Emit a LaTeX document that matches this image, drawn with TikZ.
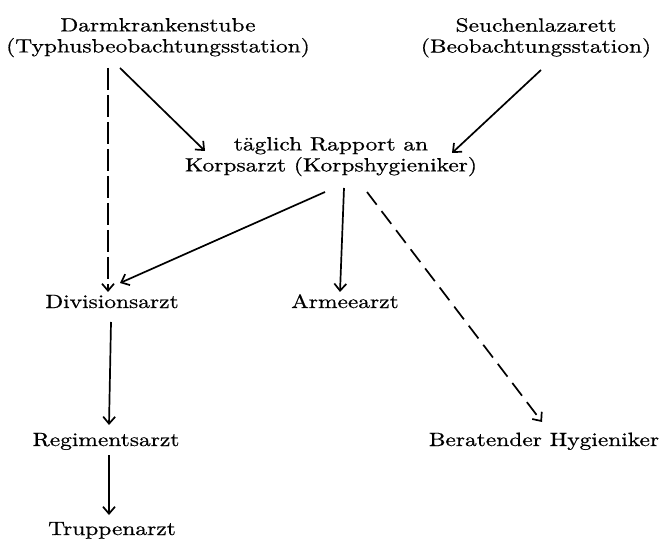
\documentclass[tikz,border=0pt]{standalone}
\usepackage{fontspec}
\setmainfont{Latin Modern Roman}[FakeStretch=1.22,FakeBold=0.6]
\usetikzlibrary{arrows.meta,calc}
\begin{document}
\begin{tikzpicture}[x=0.5pt,y=-0.5pt,
  lbl/.style={inner sep=0pt,font=\fontsize{9.6}{10.5}\selectfont},
  lbltwo/.style={lbl,align=center,anchor=north},
  lblone/.style={lbl,anchor=base},
  conn/.style={line width=0.85pt,-{Straight Barb[length=3.5pt,width=6pt]}},
  longdash/.style={conn,dash pattern=on 11pt off 2.5pt},
  shortdash/.style={conn,dash pattern=on 8pt off 4pt}]
\useasboundingbox (0,0) rectangle (663,539);
\node[lbltwo] (darm) at (158,17.7) {Darmkrankenstube\\(Typhusbeobachtungsstation)};
\node[lbltwo] (seu) at (536,17.7) {Seuchenlazarett\\(Beobachtungsstation)};
\node[lbltwo] (korps) at (331,136.7) {täglich Rapport an\\Korpsarzt (Korpshygieniker)};
\node[lblone] (div) at (112,308) {Divisionsarzt};
\node[lblone] (arm) at (345,308) {Armeearzt};
\node[lblone] (reg) at (106,446) {Regimentsarzt};
\node[lblone] (ber) at (544,446) {Beratender Hygieniker};
\node[lblone] (trup) at (112,535) {Truppenarzt};
\draw[longdash] ($(darm.north)+(-50,50.3)$) -- ($(div.base)+(-4,-16)$);
\draw[conn] ($(darm.north)+(-38,50.3)$) -- ($(korps.north)+(-126,14.3)$);
\draw[conn] ($(seu.north)+(5,52.3)$) -- ($(korps.north)+(121,16.3)$);
\draw[conn] ($(korps.north)+(-6,55.3)$) -- ($(div.base)+(8,-25)$);
\draw[conn] ($(korps.north)+(13,51.3)$) -- ($(arm.base)+(-5,-16)$);
\draw[shortdash] ($(korps.north)+(36,55.3)$) -- ($(ber.base)+(-2,-24)$);
\draw[conn] ($(div.base)+(-1,14)$) -- ($(reg.base)+(3,-21)$);
\draw[conn] ($(reg.base)+(3,9)$) -- ($(trup.base)+(-3,-20)$);
\end{tikzpicture}
\end{document}
